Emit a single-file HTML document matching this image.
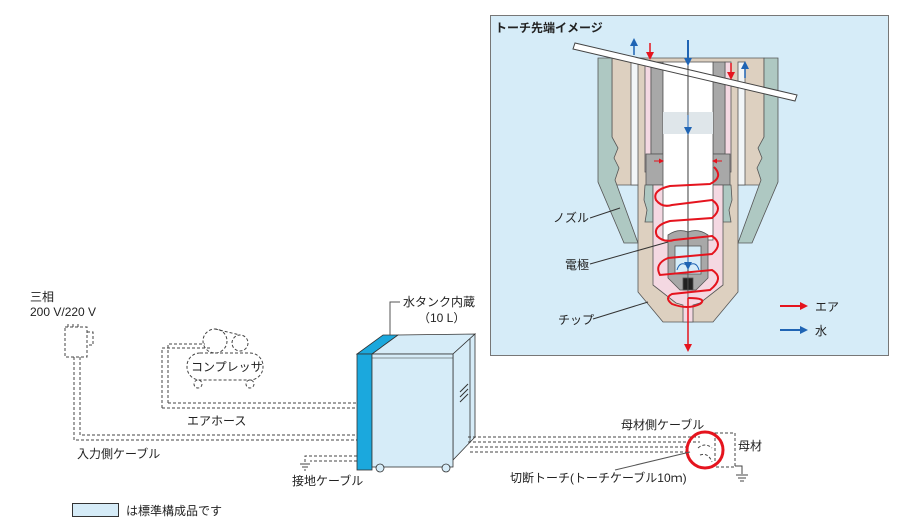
<!DOCTYPE html>
<html><head><meta charset="utf-8"><style>
body{margin:0;background:#fff}
svg{display:block}
text{font-family:"Liberation Sans","Noto Sans CJK JP",sans-serif;font-size:12px;fill:#222}
.d{fill:none;stroke:#444;stroke-width:1;stroke-dasharray:3 2}
</style></head><body>
<svg width="900" height="528" viewBox="0 0 900 528" xmlns="http://www.w3.org/2000/svg">
<defs>
<marker id="ar" markerWidth="8" markerHeight="8" refX="6" refY="4" orient="auto" markerUnits="userSpaceOnUse"><path d="M0,0 L8,4 L0,8 Z" fill="#e5141e"/></marker>
<marker id="ab" markerWidth="8" markerHeight="8" refX="6" refY="4" orient="auto" markerUnits="userSpaceOnUse"><path d="M0,0 L8,4 L0,8 Z" fill="#1f64b4"/></marker>
<marker id="arS" markerWidth="5" markerHeight="5" refX="4" refY="2.5" orient="auto" markerUnits="userSpaceOnUse"><path d="M0,0 L5,2.5 L0,5 Z" fill="#e5141e"/></marker>
</defs>
<!-- panel -->
<rect x="490.5" y="15.5" width="398" height="340" fill="#d6ecf8" stroke="#777"/>
<text x="495" y="32" style="font-weight:bold">トーチ先端イメージ</text>
<g id="half" stroke="#555" stroke-width="0.8">
 <path d="M612,58 L688,58 L688,322 L663,322 L638,292 L638,185 L612,185 Z" fill="#ddd0c0"/>
 <path d="M598,58 L612,58 L612,137 L618,148 L614,158 L619,168 L615,180 L638,243 L624,243 L598,182 Z" fill="#aec8c2"/>
 <rect x="631" y="62" width="7" height="123" fill="#f2f6f8"/>
 <rect x="645" y="62" width="6" height="110" fill="#f4d8e2"/>
 <rect x="651" y="62" width="12" height="92" fill="#a8a8a8"/>
 <rect x="646" y="154" width="20" height="31" fill="#a8a8a8"/>
 <path d="M645,185 L653,185 L653,222 L645,222 L647,210 L644,200 Z" fill="#aec8c2"/>
 <path d="M653,185 L688,185 L688,322 L683,322 L683,305 L676,303 L653,285 Z" fill="#f4d8e2"/>
 <rect x="663" y="62" width="25" height="178" fill="#fff"/>
 <rect x="663" y="112" width="25" height="22" fill="#dfe6ea" stroke="none"/>
 <path d="M668,235 Q678,228 688,232 L688,290 L680,290 L668,278 Z" fill="#a8a8a8"/>
 <rect x="675" y="246" width="13" height="28" fill="#d6ecf8"/>
 <rect x="683" y="278" width="5" height="12" fill="#222"/>
</g>
<use href="#half" transform="translate(1376,0) scale(-1,1)"/>
<!-- bar -->
<path d="M575,43 L797,95 L795,101 L573,49 Z" fill="#fff" stroke="#444"/>
<line x1="688" y1="40" x2="688" y2="272" stroke="#333" stroke-width="0.8"/>
<line x1="688" y1="40" x2="688" y2="64" stroke="#1f64b4" stroke-width="2" marker-end="url(#ab)"/>
<line x1="688" y1="115" x2="688" y2="133" stroke="#1f64b4" stroke-width="1" marker-end="url(#ab)"/>
<line x1="688" y1="255" x2="688" y2="268" stroke="#1f64b4" stroke-width="1" marker-end="url(#ab)"/>
<path d="M688,266 Q680,260 677,270 M688,266 Q696,260 699,270" fill="none" stroke="#1f64b4"/>
<line x1="634" y1="55" x2="634" y2="40" stroke="#1f64b4" stroke-width="1.5" marker-end="url(#ab)"/>
<line x1="650" y1="43" x2="650" y2="58" stroke="#e5141e" stroke-width="1.5" marker-end="url(#ar)"/>
<line x1="731" y1="63" x2="731" y2="78" stroke="#e5141e" stroke-width="1.5" marker-end="url(#ar)"/>
<line x1="745" y1="78" x2="745" y2="63" stroke="#1f64b4" stroke-width="1.5" marker-end="url(#ab)"/>
<line x1="654" y1="161" x2="663" y2="161" stroke="#e5141e" marker-end="url(#arS)"/>
<line x1="722" y1="161" x2="713" y2="161" stroke="#e5141e" marker-end="url(#arS)"/>
<!-- spiral -->
<path d="M714,167 Q724,177 710,184 L670,186 Q652,190 656,200 Q662,208 672,205 L712,200 Q724,208 712,218 L670,221 Q652,226 657,236 Q664,243 674,240 L712,236 Q724,244 712,254 L668,258 Q654,264 660,275 L712,270 Q725,278 710,290 L672,294 Q664,298 672,304 Q688,310 700,304 Q708,298 688,298" fill="none" stroke="#e5141e" stroke-width="2"/>
<line x1="688" y1="298" x2="688" y2="350" stroke="#e5141e" stroke-width="1.5" marker-end="url(#ar)"/>
<!-- labels -->
<text x="553" y="222">ノズル</text><line x1="590" y1="218" x2="620" y2="208" stroke="#333"/>
<text x="565" y="269">電極</text><line x1="590" y1="264" x2="668" y2="242" stroke="#333"/>
<text x="558" y="324">チップ</text><line x1="593" y1="319" x2="648" y2="302" stroke="#333"/>
<line x1="780" y1="306" x2="806" y2="306" stroke="#e5141e" stroke-width="2" marker-end="url(#ar)"/>
<text x="815" y="311">エア</text>
<line x1="780" y1="330" x2="806" y2="330" stroke="#1f64b4" stroke-width="2" marker-end="url(#ab)"/>
<text x="815" y="335">水</text>

<!-- lower -->
<text x="30" y="301">三相</text>
<text x="30" y="316">200 V/220 V</text>
<rect x="65" y="327" width="22" height="30" class="d"/>
<path d="M68,327 V322 M73,327 V322 M78,327 V322 M87,332 H93 V345 H87" class="d"/>
<path d="M74,357 V440 H357 M80,357 V435 H357" class="d"/>
<path d="M162,408 V348 H210 M168,403 V344 H205 M162,408 H357 M168,403 H357" class="d"/>
<circle cx="215" cy="341" r="12" class="d"/>
<circle cx="240" cy="343" r="8" class="d"/>
<path d="M215,329 L240,335" class="d"/>
<rect x="187" y="353" width="76" height="27" rx="13" class="d"/>
<text x="191" y="371">コンプレッサ</text>
<circle cx="198" cy="384" r="4" class="d"/><circle cx="250" cy="384" r="4" class="d"/>
<text x="187" y="425">エアホース</text>
<text x="77" y="458">入力側ケーブル</text>
<path d="M357,456 H305 V462 M357,461 H310" class="d"/>
<path d="M300,464 H310 M302,467 H308 M304,470 H306" stroke="#444"/>
<text x="292" y="485">接地ケーブル</text>
<!-- machine -->
<path d="M357,354 L372,354 L398,335 L383,335 Z" fill="#1ba8dd" stroke="#333" stroke-width="0.8"/>
<path d="M372,354 L453,354 L475,334 L398,335 Z" fill="#d6ecf8" stroke="#333" stroke-width="0.8"/>
<path d="M453,354 L475,334 L475,437 L453,460 Z" fill="#d6ecf8" stroke="#333" stroke-width="0.8"/>
<line x1="470" y1="339" x2="470" y2="442" stroke="#333" stroke-width="0.8"/>
<rect x="357" y="354" width="15" height="116" fill="#1ba8dd" stroke="#333" stroke-width="0.8"/>
<rect x="372" y="354" width="81" height="113" fill="#d6ecf8" stroke="#333" stroke-width="0.8"/>
<line x1="372" y1="358" x2="453" y2="358" stroke="#333" stroke-width="0.6"/>
<path d="M460,392 L468,384 M460,397 L468,389 M460,402 L468,394" stroke="#333"/>
<circle cx="380" cy="468" r="4" fill="#d6ecf8" stroke="#333" stroke-width="0.8"/>
<circle cx="446" cy="468" r="4" fill="#d6ecf8" stroke="#333" stroke-width="0.8"/>
<path d="M390,335 V302 H400" fill="none" stroke="#555"/>
<text x="403" y="306">水タンク内蔵</text>
<text x="418" y="322">（10 L）</text>
<!-- right cables -->
<path d="M468,437 H700 M468,442 H700 M470,447 H690 M470,452 H690" class="d"/>
<rect x="715" y="433" width="20" height="34" class="d"/>
<path d="M698,448 Q705,442 712,448 M700,455 Q708,452 712,462" class="d"/>
<circle cx="705" cy="450" r="18" fill="none" stroke="#e5141e" stroke-width="3"/>
<text x="621" y="429">母材側ケーブル</text>
<text x="738" y="450">母材</text>
<path d="M735,466 H742 V474 M736,475 H748 M738,478 H746 M740,481 H744" fill="none" stroke="#444"/>
<line x1="615" y1="470" x2="690" y2="452" stroke="#555"/>
<text x="510" y="482">切断トーチ(トーチケーブル10ｍ)</text>
<rect x="72.5" y="503.5" width="46" height="13" fill="#d6ecf8" stroke="#333"/>
<text x="126" y="515">は標準構成品です</text>
</svg>
</body></html>
